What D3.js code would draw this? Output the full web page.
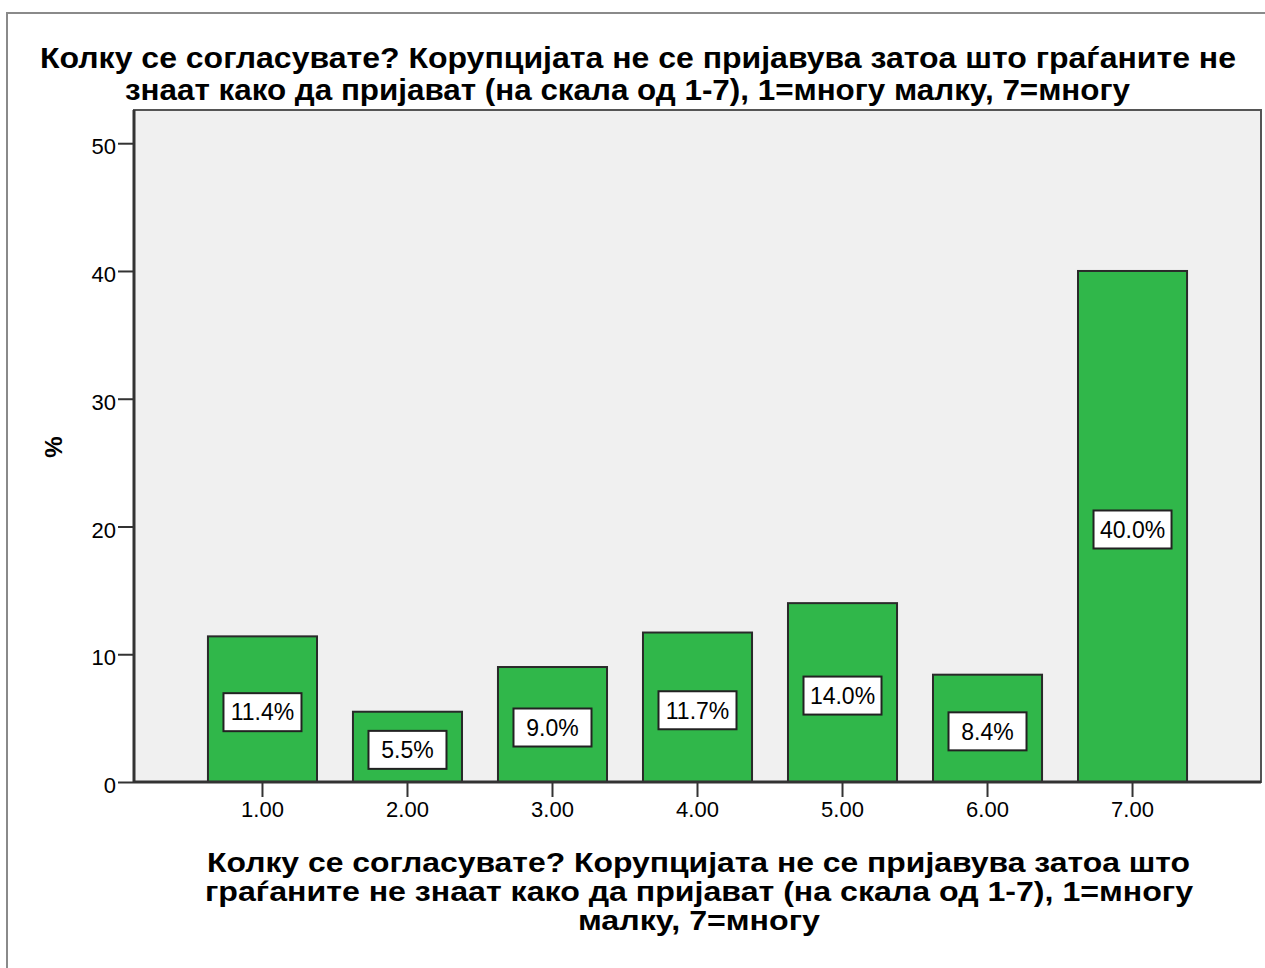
<!DOCTYPE html>
<html>
<head>
<meta charset="utf-8">
<script src="https://cdn.jsdelivr.net/npm/d3@7"></script>
<style>
  html, body { margin: 0; padding: 0; background: #ffffff; }
  svg { display: block; }
  text { font-family: "Liberation Sans", Arial, sans-serif; fill: #000; }
</style>
</head>
<body>
<svg id="chart" width="1265" height="968"></svg>
<script>
// Response categories (scale 1-7) and share of respondents in percent
const categories = ["1.00", "2.00", "3.00", "4.00", "5.00", "6.00", "7.00"];
const percents = [11.4, 5.5, 9.0, 11.7, 14.0, 8.4, 40.0];
const yTicks = [0, 10, 20, 30, 40, 50];
const yMax = 52.6;

const titleLines = [
  "Колку се согласувате? Корупцијата не се пријавува затоа што граѓаните не",
  "знаат како да пријават (на скала од 1-7), 1=многу малку, 7=многу"
];
const xTitleLines = [
  "Колку се согласувате? Корупцијата не се пријавува затоа што",
  "граѓаните не знаат како да пријават (на скала од 1-7), 1=многу",
  "малку, 7=многу"
];
const yTitle = "%";

const svg = d3.select("#chart");

// plot area
const plot = { left: 134, right: 1261, top: 110, bottom: 782 };

// outer frame
svg.append("rect")
  .attr("x", 7).attr("y", 13)
  .attr("width", 1300).attr("height", 1000)
  .attr("fill", "#fff")
  .attr("stroke", "#8a8a8a").attr("stroke-width", 2);

const x = d3.scaleBand()
  .domain(categories)
  .range([plot.left, plot.right])
  .paddingInner(0.248)
  .paddingOuter(0.51);

const y = d3.scaleLinear()
  .domain([0, yMax])
  .range([plot.bottom, plot.top]);

// plot background
svg.append("rect")
  .attr("x", plot.left).attr("y", plot.top)
  .attr("width", plot.right - plot.left).attr("height", plot.bottom - plot.top)
  .attr("fill", "#f0f0f0")
  .attr("stroke", "#555").attr("stroke-width", 2);

// bars
const data = categories.map((c, i) => ({ cat: c, v: percents[i] }));

svg.append("g").selectAll("rect")
  .data(data)
  .join("rect")
  .attr("x", d => x(d.cat))
  .attr("y", d => y(d.v))
  .attr("width", x.bandwidth())
  .attr("height", d => y(0) - y(d.v))
  .attr("fill", "#30b74a")
  .attr("stroke", "#2a2a2a")
  .attr("stroke-width", 2);

// y axis
const yAxis = svg.append("g")
  .attr("transform", `translate(${plot.left},0)`)
  .call(d3.axisLeft(y).tickValues(yTicks).tickSize(16).tickPadding(2).tickFormat(d3.format("d")));
yAxis.select(".domain").remove();
yAxis.selectAll(".tick line").attr("stroke", "#333").attr("stroke-width", 2);
yAxis.selectAll(".tick text")
  .attr("font-size", 22)
  .attr("font-family", "Liberation Sans, Arial, sans-serif")
  .attr("fill", "#000")
  .attr("dy", "0.48em");

// x axis
const xAxis = svg.append("g")
  .attr("transform", `translate(0,${plot.bottom})`)
  .call(d3.axisBottom(x).tickSize(15).tickPadding(4));
xAxis.select(".domain").remove();
xAxis.selectAll(".tick line").attr("stroke", "#333").attr("stroke-width", 2);
xAxis.selectAll(".tick text")
  .attr("font-size", 22)
  .attr("font-family", "Liberation Sans, Arial, sans-serif")
  .attr("fill", "#000");

// axis lines
svg.append("line")
  .attr("x1", plot.left).attr("x2", plot.left)
  .attr("y1", plot.top).attr("y2", plot.bottom)
  .attr("stroke", "#333").attr("stroke-width", 3);
svg.append("line")
  .attr("x1", plot.left).attr("x2", plot.right)
  .attr("y1", plot.bottom).attr("y2", plot.bottom)
  .attr("stroke", "#333").attr("stroke-width", 3);

// value labels inside bars
const labels = svg.append("g").selectAll("g")
  .data(data)
  .join("g")
  .attr("transform", d => `translate(${x(d.cat) + x.bandwidth() / 2},${(y(d.v) + y(0)) / 2 + 3})`);

labels.append("rect")
  .attr("x", -39).attr("y", -19)
  .attr("width", 78).attr("height", 38)
  .attr("fill", "#fff")
  .attr("stroke", "#222").attr("stroke-width", 2);

labels.append("text")
  .attr("text-anchor", "middle")
  .attr("dy", "0.36em")
  .attr("font-size", 23)
  .text(d => d3.format(".1f")(d.v) + "%");

// chart title
const titleSpans = [
  { x0: 40, x1: 1236, y: 68 },
  { x0: 125, x1: 1130, y: 100 }
];
svg.append("g").selectAll("text")
  .data(titleLines)
  .join("text")
  .attr("x", (d, i) => titleSpans[i].x0)
  .attr("y", (d, i) => titleSpans[i].y)
  .attr("font-size", 29)
  .attr("font-weight", "bold")
  .attr("textLength", (d, i) => titleSpans[i].x1 - titleSpans[i].x0)
  .attr("lengthAdjust", "spacingAndGlyphs")
  .text(d => d);

// x axis title
const xTitleSpans = [
  { x0: 207, x1: 1190, y: 872 },
  { x0: 205, x1: 1193, y: 901 },
  { x0: 578, x1: 820, y: 930 }
];
svg.append("g").selectAll("text")
  .data(xTitleLines)
  .join("text")
  .attr("x", (d, i) => xTitleSpans[i].x0)
  .attr("y", (d, i) => xTitleSpans[i].y)
  .attr("font-size", 27)
  .attr("font-weight", "bold")
  .attr("textLength", (d, i) => xTitleSpans[i].x1 - xTitleSpans[i].x0)
  .attr("lengthAdjust", "spacingAndGlyphs")
  .text(d => d);

// y axis title
svg.append("text")
  .attr("transform", "translate(62,447) rotate(-90)")
  .attr("text-anchor", "middle")
  .attr("font-size", 24)
  .attr("font-weight", "bold")
  .text(yTitle);
</script>
</body>
</html>
